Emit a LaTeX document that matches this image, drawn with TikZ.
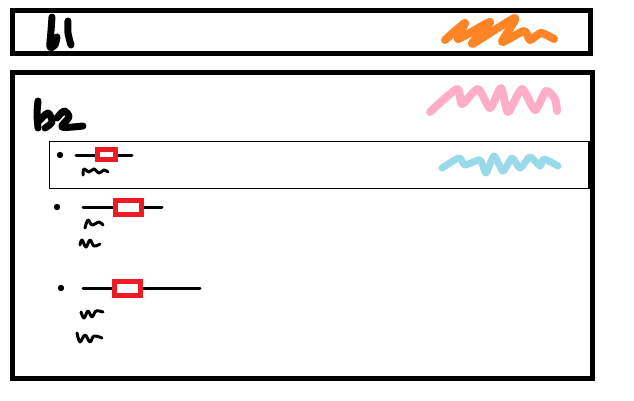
\documentclass[tikz,border=0pt]{standalone}
\usepackage{tikz}
\usetikzlibrary{calc}
\definecolor{Ink}{HTML}{000000}
\definecolor{Red}{HTML}{ED1C24}
\definecolor{Orange}{HTML}{FF8426}
\definecolor{Pink}{HTML}{FFAEC9}
\definecolor{Sky}{HTML}{99D9EA}
\tikzset{
  pen/.style={line width=#1,line cap=round,line join=round},
  pen/.default=3
}
% bullet, rule and red box of one list entry
\newcommand{\entry}[6]{%
  \fill[Ink] (#1,#2) circle (3.2);
  \draw[pen] (#3,#2) -- (#4,#2);
  \draw[Red,fill=white,line width=5] (#5) rectangle (#6);
}
% small squiggle under an entry
\newcommand{\squig}[1]{%
  \draw[pen] plot[smooth,tension=0.6] coordinates {#1};
}

\begin{document}
\begin{tikzpicture}[x=1pt,y=-1pt]
        \useasboundingbox (0,0) rectangle (634,400);
        % frames
        \draw[Ink,line width=5] (12.5,10.5) rectangle (590.5,53.5);
        \draw[Ink,line width=5] (12.5,72.5) rectangle (592.5,378.5);
        \draw[Ink,line width=1.5] (49.5,141.5) rectangle (589,188.5);
        % headings
        \draw[pen=7] plot[smooth,tension=0.5] coordinates {(52,17) (51,31) (50,47) (55,45) (57,37)};
        \draw[pen=7] plot[smooth] coordinates {(68,21) (68,33) (71,45)};
        \draw[pen=7] plot[smooth,tension=0.5] coordinates {(38,101) (37,114) (38,128)};
        \draw[pen=7] plot[smooth,tension=0.5] coordinates {(39,121) (48,113) (52,122) (45,128)};
        \draw[pen=7] plot[smooth,tension=0.5] coordinates {(57,118) (64,111) (69,117) (62,127) (83,126)};
        % colour scribbles
        \draw[Orange,pen=8] plot[smooth,tension=0.4] coordinates {(445,40) (465,23) (458,39) (490,22) (472,44) (515,18) (502,42) (524,31) (530,40) (541,33) (554,39)};
        \draw[Pink,pen=8] plot[smooth,tension=0.4] coordinates {(430,112) (457,89) (462,104) (478,89) (490,108) (501,88) (508,112) (522,89) (535,110) (546,91) (555,99) (557,111)};
        \draw[Sky,pen=7] plot[smooth,tension=0.4] coordinates {(442,168) (459,158) (465,165) (480,160) (486,173) (494,156) (503,171) (512,158) (520,168) (530,157) (540,166) (544,159) (558,166)};
        % entries
        \entry{60}{155}{76}{132}{97.5,149.5}{115.5,159.5}
        \entry{57}{207}{83}{162}{115.5,200.5}{141.5,214.5}
        \entry{61}{288}{83}{200}{114.5,281.5}{140.5,295.5}
        \squig{(83,175) (84,169) (89,172) (94,169) (99,173) (104,170) (108,172)}
        \squig{(85,228) (88,220) (92,225) (99,222) (103,225)}
        \squig{(80,245) (82,240) (86,247) (90,240) (94,246) (100,244)}
        \squig{(81,312) (84,318) (88,311) (92,317) (96,311) (103,312)}
        \squig{(77,333) (80,342) (85,335) (90,342) (94,336) (102,338)}
      \end{tikzpicture}
\end{document}
